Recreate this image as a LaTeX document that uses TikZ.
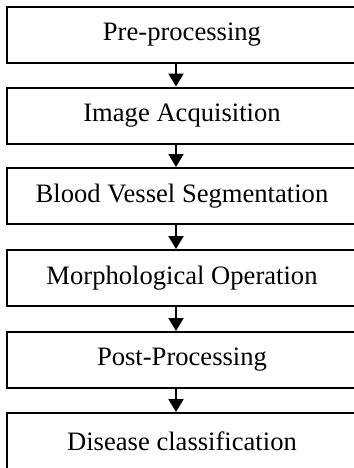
\documentclass[tikz,border=0pt]{standalone}
\usepackage{fontspec}
\setmainfont{Liberation Serif}
\usetikzlibrary{arrows.meta}
\begin{document}
\begin{tikzpicture}[x=0.5pt, y=-0.5pt,
    boxStyle/.style={rectangle, draw, line width=1pt, minimum width=175pt, minimum height=28pt, inner sep=0pt, font=\fontsize{13.3}{16}\selectfont},
    arrowStyle/.style={line width=1pt, -{Triangle[width=7.5pt, length=6.5pt]}}]
    \useasboundingbox (0,0) rectangle (354,468);
    \clip (0,0) rectangle (354,468);
    \coordinate (mid) at (176,0);

    \node[boxStyle](pre) at (182, 34.5) {Pre-processing};
    \node[boxStyle](acq) at (182, 115.5) {Image Acquisition};
    \node[boxStyle](seg) at (182, 196) {Blood Vessel Segmentation};
    \node[boxStyle](morph) at (182, 278) {Morphological Operation};
    \node[boxStyle](post) at (182, 360) {Post-Processing};
    \node[boxStyle](cls) at (182, 441) {Disease classification};

    \draw[arrowStyle] (pre.south -| mid) -- (acq.north -| mid);
    \draw[arrowStyle] (acq.south -| mid) -- (seg.north -| mid);
    \draw[arrowStyle] (seg.south -| mid) -- (morph.north -| mid);
    \draw[arrowStyle] (morph.south -| mid) -- (post.north -| mid);
    \draw[arrowStyle] (post.south -| mid) -- (cls.north -| mid);
\end{tikzpicture}
\end{document}
